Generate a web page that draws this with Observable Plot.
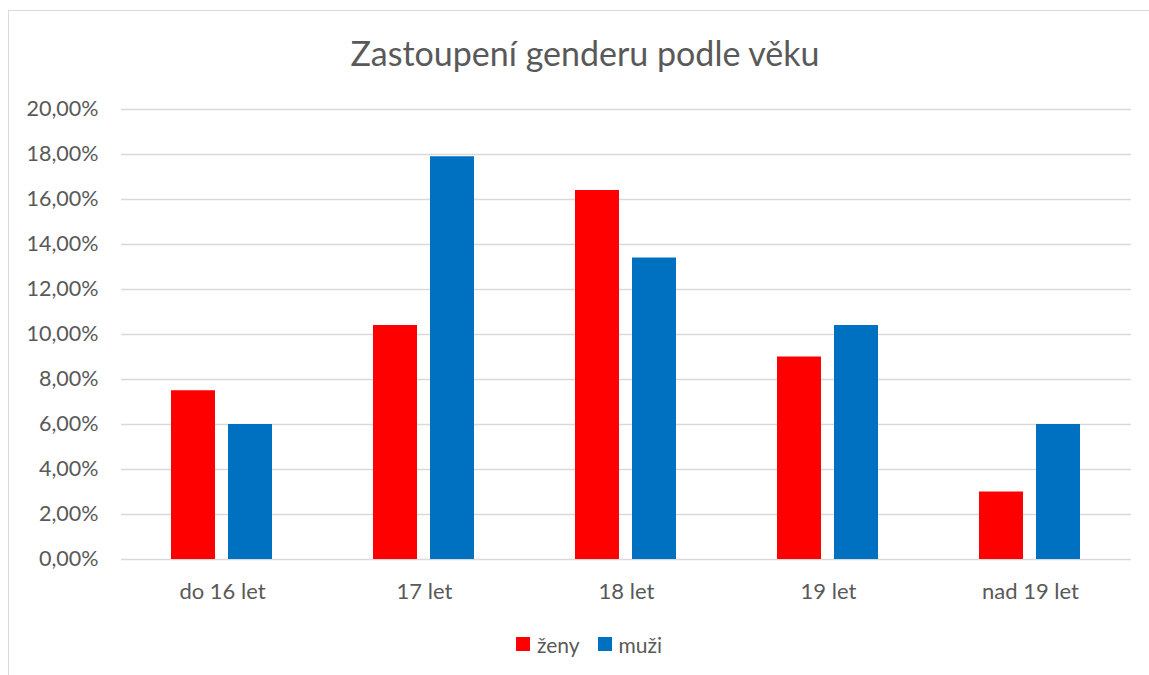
<!DOCTYPE html>
<html>
<head>
<meta charset="utf-8">
<script src="https://cdn.jsdelivr.net/npm/d3@7"></script>
<script src="https://cdn.jsdelivr.net/npm/@observablehq/plot@0.6"></script>
<style>
  html, body { margin: 0; padding: 0; background: #fff; overflow: hidden; }
  body { width: 1149px; height: 675px; position: relative; font-family: Lato, "Open Sans", sans-serif; color: #595959; }
  #frame { position: absolute; left: 8px; top: 10px; width: 1160px; height: 680px; border: 1px solid #d9d9d9; box-sizing: border-box; }
  #title { position: absolute; left: 0; width: 1170px; top: 33px; text-align: center; font-size: 34px; line-height: 40px; color: #595959; }
  #chart { position: absolute; left: 0; top: 0; }
  #legend { position: absolute; top: 630px; left: 0; width: 1178px; text-align: center; font-size: 21px; color: #595959; }
  #legend span.item { display: inline-flex; align-items: center; margin: 0 9px; }
  #legend span.sw { display: inline-block; width: 14px; height: 14px; margin-right: 7px; }
</style>
</head>
<body>
<div id="frame"></div>
<div id="chart"></div>
<div id="title">Zastoupení genderu podle věku</div>
<div id="legend"></div>
<script>
const categories = ["do 16 let", "17 let", "18 let", "19 let", "nad 19 let"];
const seriesNames = ["ženy", "muži"];
const zeny = [7.5, 10.4, 16.4, 9.0, 3.0];
const muzi = [6.0, 17.9, 13.4, 10.4, 6.0];
const yTicks = [0, 2, 4, 6, 8, 10, 12, 14, 16, 18, 20];
const colors = ["#ff0000", "#0070c0"];

const rows = [];
categories.forEach((c, i) => {
  rows.push({category: c, series: seriesNames[0], value: zeny[i]});
  rows.push({category: c, series: seriesNames[1], value: muzi[i]});
});

const fmt = d => d.toFixed(2).replace(".", ",") + "%";

const chart = Plot.plot({
  width: 1149,
  height: 675,
  marginLeft: 120,
  marginRight: 17,
  marginTop: 109,
  marginBottom: 116,
  style: {fontFamily: "Lato, 'Open Sans', sans-serif", fontSize: "21px", color: "#595959", background: "transparent"},
  fx: {domain: categories, padding: 0, label: null},
  x: {domain: seriesNames, paddingInner: 0.224, paddingOuter: 0.857, axis: null},
  y: {domain: [0, 20], label: null},
  color: {domain: seriesNames, range: colors},
  marks: [
    Plot.gridY(yTicks, {stroke: "#d9d9d9", strokeOpacity: 1, strokeWidth: 1.5}),
    Plot.axisY(yTicks, {tickSize: 0, tickPadding: 23, tickFormat: fmt, fill: "#595959", fontSize: 21.5, label: null}),
    Plot.axisFx({anchor: "bottom", tickSize: 0, tickPadding: 24, fill: "#595959", fontSize: 22, label: null}),
    Plot.barY(rows, {fx: "category", x: "series", y: "value", fill: "series"})
  ]
});
document.getElementById("chart").appendChild(chart);

const legend = document.getElementById("legend");
seriesNames.forEach((s, i) => {
  const item = document.createElement("span");
  item.className = "item";
  const sw = document.createElement("span");
  sw.className = "sw";
  sw.style.background = colors[i];
  item.appendChild(sw);
  item.appendChild(document.createTextNode(s));
  legend.appendChild(item);
});
</script>
</body>
</html>
